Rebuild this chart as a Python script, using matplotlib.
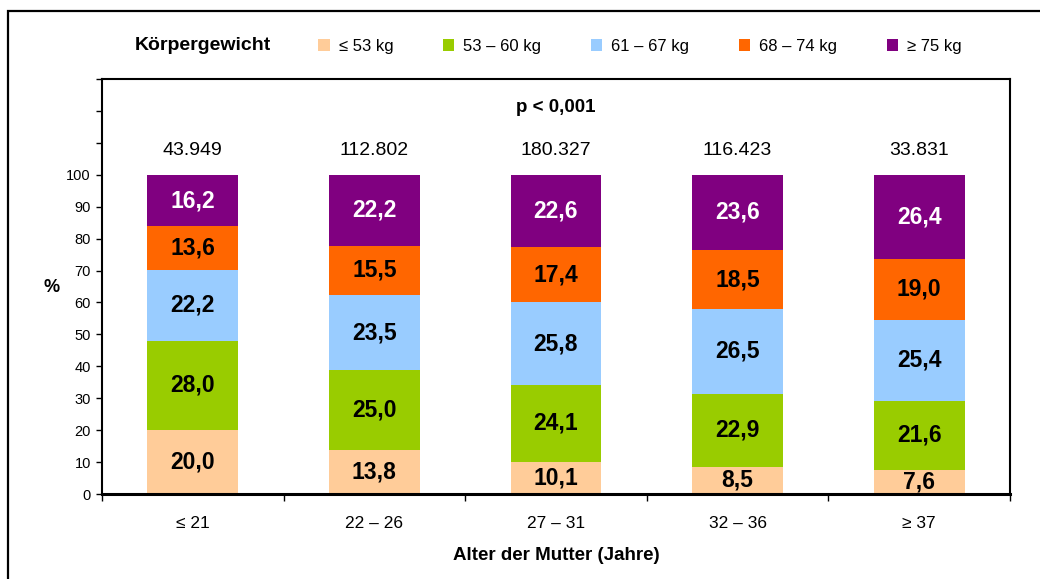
import matplotlib
matplotlib.use("Agg")
import matplotlib.pyplot as plt
import matplotlib.patches as mpatches
import numpy as np

plt.rcParams['font.family'] = ['Liberation Sans', 'DejaVu Sans']

# data
age_groups = ['≤ 21', '22 – 26', '27 – 31', '32 – 36', '≥ 37']
n_totals = ['43.949', '112.802', '180.327', '116.423', '33.831']
weight_classes = ['≤ 53 kg', '53 – 60 kg', '61 – 67 kg', '68 – 74 kg', '≥ 75 kg']
w_le53 = [20.0, 13.8, 10.1, 8.5, 7.6]
w_53_60 = [28.0, 25.0, 24.1, 22.9, 21.6]
w_61_67 = [22.2, 23.5, 25.8, 26.5, 25.4]
w_68_74 = [13.6, 15.5, 17.4, 18.5, 19.0]
w_ge75 = [16.2, 22.2, 22.6, 23.6, 26.4]
series = [w_le53, w_53_60, w_61_67, w_68_74, w_ge75]
colors = ['#FFCC99', '#99CC00', '#99CCFF', '#FF6600', '#800080']
label_colors = ['black', 'black', 'black', 'black', 'white']

W, H = 1040, 579
fig = plt.figure(figsize=(W / 100, H / 100), dpi=100)

# outer frame
fig.add_artist(mpatches.Rectangle((8 / W, -0.1), 1.2, 1 - 11 / H + 0.1,
                                  transform=fig.transFigure, fill=False,
                                  edgecolor='black', linewidth=1.6))

ax = fig.add_axes([102 / W, 1 - 494 / H, (1010 - 102) / W, (494 - 79) / H])

x = np.arange(len(age_groups))
bottom = np.zeros(len(age_groups))
for vals, col, lcol in zip(series, colors, label_colors):
    vals = np.array(vals)
    ax.bar(x, vals, width=0.5, bottom=bottom, color=col, edgecolor='none')
    for xi, b, v in zip(x, bottom, vals):
        ax.text(xi, b + v / 2, ('%.1f' % v).replace('.', ','), ha='center',
                va='center', fontsize=16.5, fontweight='bold', color=lcol)
    bottom += vals

for xi, n in zip(x, n_totals):
    ax.text(xi, 107.5, n, ha='center', va='center', fontsize=14)

ax.text(2, 121, 'p < 0,001', ha='center', va='center', fontsize=13.5,
        fontweight='bold')

ax.set_xlim(-0.5, 4.5)
ax.set_ylim(0, 130)
ax.set_yticks(np.arange(0, 131, 10))
ax.set_yticklabels([str(v) if v <= 100 else '' for v in range(0, 131, 10)],
                   fontsize=10.5)
ax.tick_params(axis='y', direction='out', length=4, width=1, pad=4)

ax.set_xticks(np.arange(-0.5, 4.6, 1))
ax.set_xticklabels([])
ax.set_xticks(x, minor=True)
ax.set_xticklabels(age_groups, minor=True, fontsize=12.5)
ax.tick_params(axis='x', which='major', direction='out', length=5, width=1)
ax.tick_params(axis='x', which='minor', length=0, pad=16)

for s in ['top', 'right', 'left']:
    ax.spines[s].set_linewidth(1.5)
ax.spines['bottom'].set_linewidth(2.2)

ax.set_xlabel('Alter der Mutter (Jahre)', fontsize=13.5, fontweight='bold',
              labelpad=11)
fig.text(52 / W, 1 - 287 / H, '%', ha='center', va='center', fontsize=13,
         fontweight='bold')

# legend
fig.text(135 / W, 1 - 46 / H, 'Körpergewicht', ha='left', va='center',
         fontsize=14, fontweight='bold')
handles = [mpatches.Patch(facecolor=c, edgecolor='none') for c in colors]
fig.legend(handles, weight_classes, loc='center left',
           bbox_to_anchor=(318 / W, 1 - 46 / H), ncol=5, frameon=False,
           fontsize=12, handlelength=0.7, handleheight=0.7,
           handletextpad=0.55, columnspacing=2.95, borderpad=0,
           borderaxespad=0)

fig.savefig('out.png', dpi=100)
